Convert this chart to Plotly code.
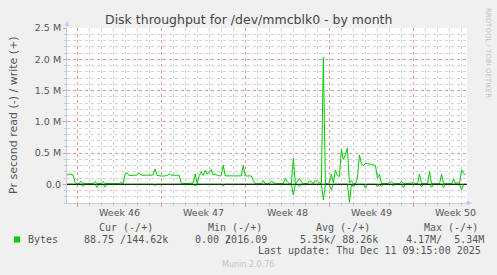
import plotly.graph_objects as go
import pandas as pd

# ---------------- data ----------------
sample_start = "2025-11-08 04:00"
sample_step = "4h"

# write (+) throughput, thousands of bytes / s (4-hour samples)
write_k = [
    140, 165, 160, 150, 30, 10, 10, 50, 10, 10, 10, 12, 10, 10, 45, 10, 10, 12, 45, 10,
    10, 10, 10, 10, 12, 10, 10, 30, 10, 160, 185, 140, 145, 140, 145, 145, 180, 145, 140, 145,
    145, 140, 145, 150, 245, 140, 135, 130, 130, 135, 140, 170, 145, 145, 140, 145, 145, 25, 10, 10,
    10, 10, 10, 20, 165, 10, 140, 197, 139, 224, 160, 192, 235, 150, 160, 144, 133, 139, 305, 135,
    133, 130, 135, 133, 130, 133, 135, 132, 300, 133, 133, 130, 133, 60, 10, 10, 10, 10, 60, 10,
    10, 10, 50, 35, 10, 10, 10, 10, 10, 95, 40, 10, 10, 416, 10, 40, 95, 40, 10, 10,
    10, 55, 40, 10, 65, 40, 25, 10, 2030, 10, 10, 30, 160, 20, 229, 139, 123, 555, 400, 470,
    580, 20, 60, 10, 10, 100, 469, 330, 295, 335, 330, 320, 315, 310, 300, 96, 160, 10, 10, 10,
    10, 27, 43, 10, 10, 10, 10, 43, 10, 10, 10, 10, 20, 27, 10, 10, 160, 10, 10, 10,
    10, 203, 10, 10, 10, 10, 10, 160, 10, 10, 10, 10, 10, 85, 10, 27, 10, 229, 176, 150,
]

# read (-) throughput, thousands of bytes / s (same samples)
read_k = [
    0, 0, 0, 0, 0, 0, 0, 0, 35, 0, 0, 0, 0, 0, 0, 50, 0, 0, 0, 45,
    0, 0, 0, 0, 0, 0, 0, 0, 0, 0, 0, 12, 0, 0, 0, 0, 0, 0, 0, 0,
    0, 0, 0, 0, 20, 0, 0, 0, 0, 0, 0, 0, 0, 0, 0, 0, 0, 0, 0, 0,
    0, 0, 0, 0, 25, 0, 0, 0, 0, 0, 0, 0, 0, 0, 0, 0, 0, 0, 25, 0,
    0, 0, 0, 0, 0, 0, 0, 0, 0, 0, 0, 0, 0, 0, 0, 0, 0, 0, 0, 0,
    0, 0, 0, 0, 0, 0, 0, 0, 0, 0, 0, 0, 0, 170, 0, 0, 37, 0, 0, 0,
    0, 0, 0, 0, 0, 0, 0, 0, 250, 12, 0, 0, 90, 0, 0, 0, 0, 0, 0, 0,
    0, 290, 0, 37, 0, 0, 0, 0, 0, 64, 0, 0, 0, 0, 0, 40, 0, 35, 0, 0,
    0, 0, 0, 27, 0, 0, 0, 0, 53, 0, 0, 0, 0, 0, 0, 0, 0, 37, 0, 0,
    0, 0, 48, 0, 0, 0, 0, 0, 53, 0, 0, 0, 0, 0, 0, 0, 0, 90, 0, 0,
]

x_range = ["2025-11-08 04:00", "2025-12-11 10:50"]
week_starts = ["2025-11-09", "2025-11-16", "2025-11-23", "2025-11-30", "2025-12-07"]
week_labels = ["Week 46", "Week 47", "Week 48", "Week 49", "Week 50"]

y_range = [-300000, 2500000]
y_tickvals = [0, 500000, 1000000, 1500000, 2000000, 2500000]
y_ticktext = ["0.0", "0.5 M", "1.0 M", "1.5 M", "2.0 M", "2.5 M"]

title_text = "Disk throughput for /dev/mmcblk0 - by month"
y_title = "Pr second read (-) / write (+)"
series_name = "Bytes"
legend_heads = ["Cur (-/+)", "Min (-/+)", "Avg (-/+)", "Max (-/+)"]
legend_vals = ["88.75 /144.62k", "0.00 2016.09", "5.35k/ 88.26k", "4.17M/  5.34M"]
last_update = "Last update: Thu Dec 11 09:15:00 2025"
footer = "Munin 2.0.76"
watermark = "RRDTOOL / TOBI OETIKER"

# ---------------- layout helpers ----------------
W, H = 497, 275
L, R, T, B = 67, 30, 28, 72
PW, PH = W - L - R, H - T - B


def px(x):
    return (x - L) / PW


def py(y):
    return (H - B - y) / PH


GREEN = "#00CC00"
TXT = "#555555"
SANS = "DejaVu Sans"
MONO = "DejaVu Sans Mono"
MAJ = "#E69494"
MIN = "#D2D2D2"
AXC = "#C4CCF2"

times = pd.date_range(sample_start, periods=len(write_k), freq=sample_step)
write = [v * 1000 for v in write_k]
read_neg = [-v * 1000 for v in read_k]

# minor grid positions: every day / every 0.1 M, skipping the major ones
week_ts = set(pd.Timestamp(w) for w in week_starts)
day_grid = [d for d in pd.date_range("2025-11-08", "2025-12-12", freq="D") if d not in week_ts]
y_minor = [v * 100000 for v in range(-3, 26) if (v * 100000) not in y_tickvals]

fig = go.Figure()
fig.add_trace(go.Scatter(x=times, y=read_neg, mode="lines",
                         line=dict(color=GREEN, width=1), showlegend=False,
                         hoverinfo="skip"))
fig.add_trace(go.Scatter(x=times, y=write, mode="lines",
                         line=dict(color=GREEN, width=1), showlegend=False,
                         name=series_name))

nb = "\u00a0"
ann = []
ann.append(dict(text=title_text, x=px(248), y=py(19), xref="paper", yref="paper",
                showarrow=False, xanchor="center", yanchor="middle",
                font=dict(family=SANS, size=12.5, color="#444444")))
ann.append(dict(text=y_title, x=px(13), y=py(115), xref="paper", yref="paper",
                showarrow=False, textangle=-90, xanchor="center", yanchor="middle",
                font=dict(family=SANS, size=11, color=TXT)))
ann.append(dict(text=watermark, x=px(488), y=py(53), xref="paper", yref="paper",
                showarrow=False, textangle=90, xanchor="center", yanchor="middle",
                font=dict(family=SANS, size=7, color="#C4C4C4")))
for ws, wl in zip(week_starts, week_labels):
    c = pd.Timestamp(ws) + pd.Timedelta(hours=84)
    ann.append(dict(text=wl, x=c, y=py(212), xref="x", yref="paper", showarrow=False,
                    xanchor="center", yanchor="middle",
                    font=dict(family=SANS, size=9.5, color=TXT)))
head_x = [98, 206.7, 315, 422.7]
val_x = [82.7, 194.3, 299.3, 405]
for hx, ht in zip(head_x, legend_heads):
    ann.append(dict(text=ht.replace(" ", nb), x=px(hx - 1), y=py(227.7), xref="paper",
                    yref="paper", showarrow=False, xanchor="left", yanchor="middle",
                    font=dict(family=MONO, size=10, color=TXT)))
for vx, vt in zip(val_x, legend_vals):
    ann.append(dict(text=vt.replace(" ", nb), x=px(vx - 1), y=py(239.7), xref="paper",
                    yref="paper", showarrow=False, xanchor="left", yanchor="middle",
                    font=dict(family=MONO, size=10, color=TXT)))
# overlapping slash in the Min column (as in the original rendering)
ann.append(dict(text="/", x=px(194.3 + 5 * 6.02 - 1), y=py(239.7), xref="paper",
                yref="paper", showarrow=False, xanchor="left", yanchor="middle",
                font=dict(family=MONO, size=10, color=TXT)))
ann.append(dict(text=series_name, x=px(26), y=py(239.7), xref="paper", yref="paper",
                showarrow=False, xanchor="left", yanchor="middle",
                font=dict(family=MONO, size=10, color=TXT)))
ann.append(dict(text=last_update.replace(" ", nb), x=px(483), y=py(250.7), xref="paper",
                yref="paper", showarrow=False, xanchor="right", yanchor="middle",
                font=dict(family=MONO, size=10, color=TXT)))
ann.append(dict(text=footer, x=px(248), y=py(264), xref="paper", yref="paper",
                showarrow=False, xanchor="center", yanchor="middle",
                font=dict(family=SANS, size=8, color="#C4C4C4")))
# axis arrows
ann.append(dict(text="", x=0, y=py(21), xref="paper", yref="paper", ax=0, ay=8,
                showarrow=True, arrowhead=2, arrowsize=1, arrowwidth=1, arrowcolor=AXC))
ann.append(dict(text="", x=px(472), y=0, xref="paper", yref="paper", ax=-8, ay=0,
                showarrow=True, arrowhead=2, arrowsize=1, arrowwidth=1, arrowcolor=AXC))

shapes = [
    dict(type="line", xref="paper", x0=0, x1=1, yref="y", y0=0, y1=0,
         line=dict(color="black", width=1), layer="above"),
    dict(type="rect", xref="paper", yref="paper", x0=px(14), x1=px(20),
         y0=py(242.5), y1=py(236.5), fillcolor=GREEN, line=dict(width=0)),
]

fig.update_layout(
    width=W, height=H,
    margin=dict(l=L, r=R, t=T, b=B, pad=0),
    paper_bgcolor="#F0F0F0", plot_bgcolor="white",
    showlegend=False,
    annotations=ann, shapes=shapes,
    xaxis=dict(type="date", range=x_range, tickmode="array", tickvals=week_starts,
               ticktext=[""] * len(week_starts), showgrid=True, gridcolor=MAJ,
               griddash="dot", gridwidth=1, ticks="outside", ticklen=3, tickcolor=MAJ,
               showline=True, linecolor=AXC, linewidth=1, zeroline=False,
               minor=dict(tickmode="array", tickvals=day_grid, showgrid=True,
                          gridcolor=MIN, griddash="dot", gridwidth=1,
                          ticks="outside", ticklen=2, tickcolor="#C8C8C8"),
               fixedrange=True),
    yaxis=dict(range=y_range, tickmode="array", tickvals=y_tickvals, ticktext=y_ticktext,
               showgrid=True, gridcolor=MAJ, griddash="dot", gridwidth=1,
               ticks="outside", ticklen=3, tickcolor=MAJ,
               showline=True, linecolor=AXC, linewidth=1, zeroline=False,
               tickfont=dict(family=SANS, size=9.5, color=TXT),
               minor=dict(tickmode="array", tickvals=y_minor, showgrid=True,
                          gridcolor=MIN, griddash="dot", gridwidth=1, ticks="outside",
                          ticklen=2, tickcolor="#C8C8C8"),
               fixedrange=True),
)

fig.write_html("out.html", config={"displayModeBar": False})
